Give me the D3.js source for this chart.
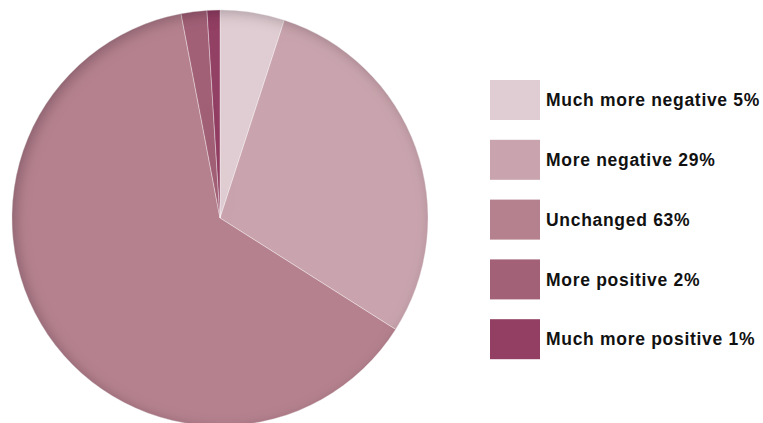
<!DOCTYPE html>
<html>
<head>
<meta charset="utf-8">
<script src="https://cdn.jsdelivr.net/npm/d3@7"></script>
<style>
  html, body { margin: 0; padding: 0; background: #fff; }
  svg { display: block; }
</style>
</head>
<body>
<svg id="chart" width="763" height="423"></svg>
<script>
// Change in sentiment, share of respondents
const categories = ["Much more negative", "More negative", "Unchanged", "More positive", "Much more positive"];
const shares = [5, 29, 63, 2, 1];
const colors = ["#e0cdd3", "#c9a4ae", "#b5818f", "#a26177", "#923f63"];

const svg = d3.select("#chart");

const cx = 220, cy = 218, radius = 208;

// Inner shading along the rim of the pie
const defs = svg.append("defs");
const f = defs.append("filter")
  .attr("id", "rim")
  .attr("x", "-10%").attr("y", "-10%")
  .attr("width", "120%").attr("height", "120%");
f.append("feComponentTransfer").attr("in", "SourceAlpha").attr("result", "inv")
  .append("feFuncA").attr("type", "table").attr("tableValues", "1 0");
f.append("feGaussianBlur").attr("in", "inv").attr("stdDeviation", 7).attr("result", "blur");
f.append("feOffset").attr("in", "blur").attr("dx", 4).attr("dy", 3).attr("result", "off");
f.append("feFlood").attr("flood-color", "#2a0a18").attr("flood-opacity", 0.5).attr("result", "col");
f.append("feComposite").attr("in", "col").attr("in2", "off").attr("operator", "in").attr("result", "sh");
f.append("feComposite").attr("in", "sh").attr("in2", "SourceAlpha").attr("operator", "in").attr("result", "inner");
const merge = f.append("feMerge");
merge.append("feMergeNode").attr("in", "SourceGraphic");
merge.append("feMergeNode").attr("in", "inner");

const color = d3.scaleOrdinal().domain(categories).range(colors);

const pie = d3.pie()
  .sort(null)
  .value(d => d.value);

const data = categories.map((c, i) => ({ name: c, value: shares[i] }));
const arcs = pie(data);

const arc = d3.arc().innerRadius(0).outerRadius(radius);

const g = svg.append("g")
  .attr("transform", `translate(${cx},${cy})`)
  .attr("filter", "url(#rim)");

g.selectAll("path.slice")
  .data(arcs)
  .join("path")
  .attr("class", "slice")
  .attr("d", arc)
  .attr("fill", d => color(d.data.name))
  .attr("stroke", "rgba(255,255,255,0.45)")
  .attr("stroke-width", 0.8);

// Legend
const legendX = 490, legendY = 80, rowGap = 59.8, swW = 50, swH = 40;
const legend = svg.append("g").attr("class", "legend");
const rows = legend.selectAll("g.row")
  .data(data)
  .join("g")
  .attr("class", "row")
  .attr("transform", (d, i) => `translate(${legendX},${legendY + i * rowGap})`);

rows.append("rect")
  .attr("width", swW)
  .attr("height", swH)
  .attr("fill", d => color(d.name));

rows.append("text")
  .attr("x", swW + 6)
  .attr("y", swH / 2)
  .attr("dy", "0.36em")
  .attr("font-family", "Helvetica, 'Liberation Sans', Arial, sans-serif")
  .attr("font-weight", "bold")
  .attr("font-size", 17.5)
  .attr("letter-spacing", 0.7)
  .attr("fill", "#111")
  .text(d => `${d.name} ${d.value}%`);
</script>
</body>
</html>
